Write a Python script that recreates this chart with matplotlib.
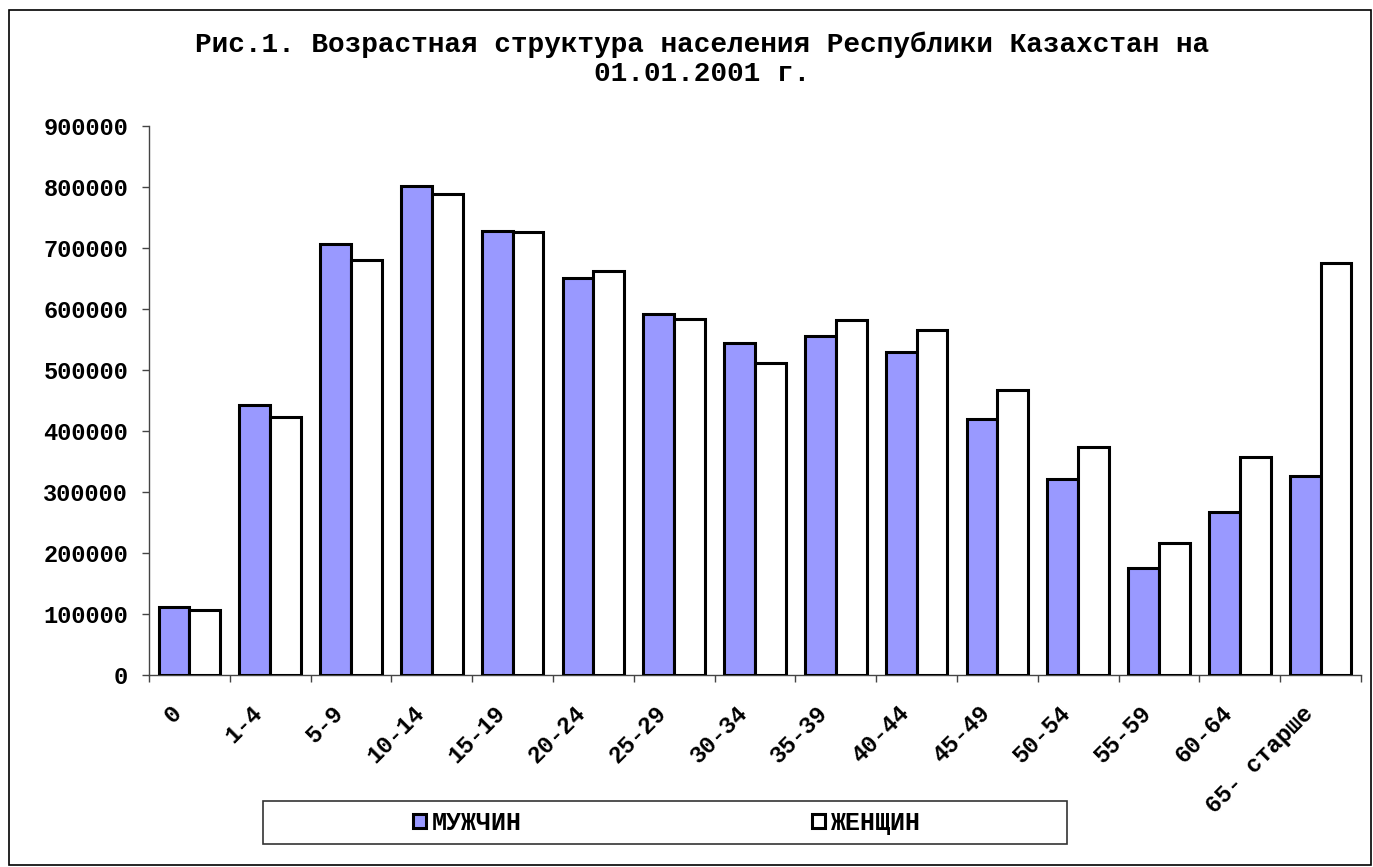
import numpy as np
import matplotlib
matplotlib.use("Agg")
import matplotlib.pyplot as plt
from matplotlib.patches import Rectangle
from matplotlib.transforms import ScaledTranslation

# age groups and population
ages = ["0", "1-4", "5-9", "10-14", "15-19", "20-24", "25-29", "30-34",
        "35-39", "40-44", "45-49", "50-54", "55-59", "60-64", "65- старше"]
men = [112000, 443000, 706000, 802000, 728000, 651000, 592000, 545000,
       555000, 530000, 419000, 321000, 175000, 267000, 327000]
women = [107000, 423000, 681000, 788000, 726000, 662000, 584000, 511000,
         582000, 566000, 467000, 374000, 216000, 357000, 676000]
yticks = np.arange(0, 900001, 100000)

W, H = 1373, 867
fig = plt.figure(figsize=(W / 100, H / 100), dpi=100)
mono = "Liberation Mono"

ax = fig.add_axes([149 / W, (H - 675) / H, (1361 - 149) / W, (675 - 126) / H])

x = np.arange(len(ages))
w = 0.38
b1 = ax.bar(x - w / 2, men, w, color="#9999FF", edgecolor="black", linewidth=2.2,
            label="МУЖЧИН", zorder=3)
b2 = ax.bar(x + w / 2, women, w, color="white", edgecolor="black", linewidth=2.2,
            label="ЖЕНЩИН", zorder=3)

ax.set_xlim(-0.5, len(ages) - 0.5)
ax.set_ylim(0, 900000)
ax.set_yticks(yticks)
ax.set_yticklabels([str(v) for v in yticks], family=mono, fontweight="bold",
                   fontsize=17)
ax.tick_params(axis="y", length=5, width=1, color="#444444", pad=10)

ax.set_xticks(x)
ax.set_xticklabels(ages, rotation=45, ha="right", va="top", family=mono,
                   fontweight="bold", fontsize=17)
ax.set_xticks(np.arange(-0.5, len(ages)), minor=True)
ax.tick_params(axis="x", which="major", length=0, pad=19)
ax.tick_params(axis="x", which="minor", length=5, width=1, color="#444444")
for lab in ax.get_xticklabels():
    lab.set_transform(lab.get_transform() + ScaledTranslation(-3 / 100, 0, fig.dpi_scale_trans))

for s in ["top", "right"]:
    ax.spines[s].set_visible(False)
for s in ["left", "bottom"]:
    ax.spines[s].set_color("#444444")
    ax.spines[s].set_linewidth(1)

fig.text(702 / W, 1 - 32 / H,
         "Рис.1. Возрастная структура населения Республики Казахстан на\n01.01.2001 г.",
         ha="center", va="top", family=mono, fontweight="bold", fontsize=20,
         linespacing=1.12)

# outer chart frame
fig.patches.append(Rectangle((9 / W, 1 - 865 / H), (1371 - 9) / W, (865 - 10) / H,
                             transform=fig.transFigure, fill=False,
                             edgecolor="black", linewidth=1.2))
# legend frame
fig.patches.append(Rectangle((263 / W, 1 - 844 / H), (1067 - 263) / W, (844 - 801) / H,
                             transform=fig.transFigure, fill=False,
                             edgecolor="#333333", linewidth=1.2))
fs = 18
fig.legend(handles=[b1, b2], loc="center", bbox_to_anchor=(667 / W, 1 - 823 / H),
           ncol=2, frameon=False, prop={"family": mono, "weight": "bold", "size": fs},
           handlelength=0.5, handleheight=0.5, handletextpad=0.25,
           columnspacing=290 / (fs * 100 / 72), borderpad=0)

fig.savefig("out.png", dpi=100)
